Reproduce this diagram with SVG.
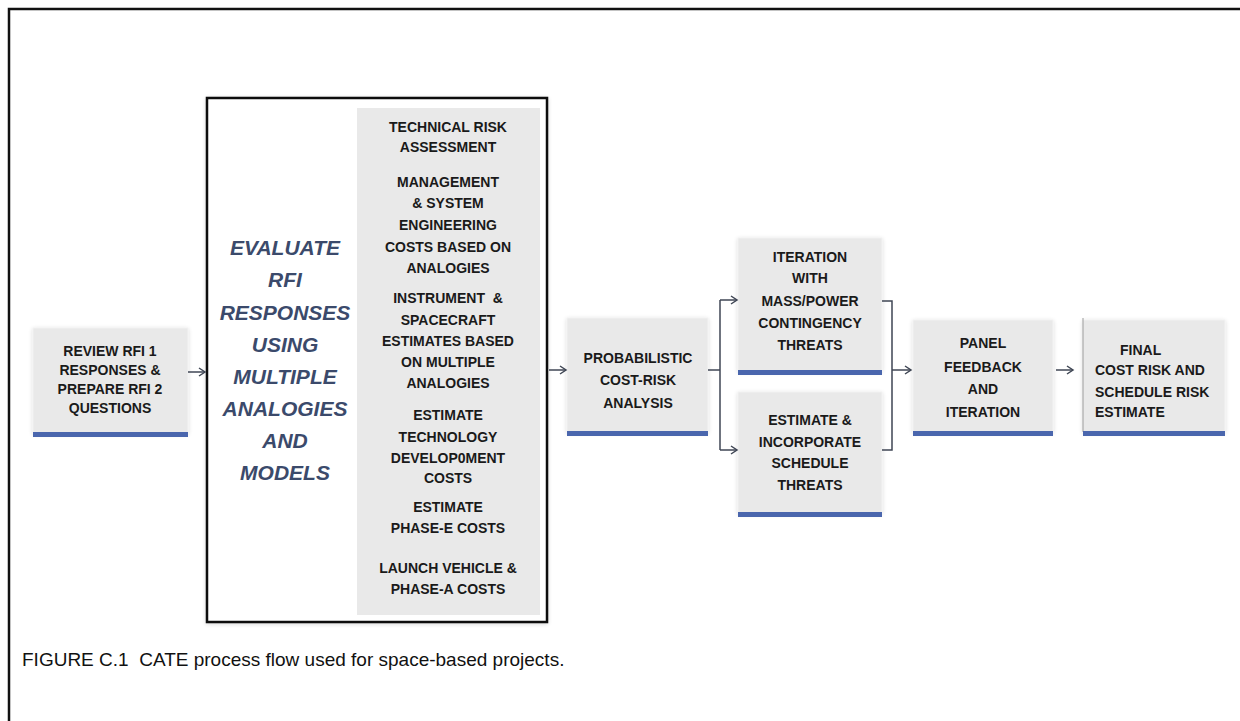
<svg xmlns="http://www.w3.org/2000/svg" width="1240" height="721" viewBox="0 0 1240 721">
<style>
  .box{fill:#e9e9e9;stroke:#f2f2f2;stroke-width:1}
  .bar{fill:#4a66ad}
  .t{font-family:"Liberation Sans",Arial,sans-serif;font-weight:bold;font-size:14px;fill:#1a1a1a;text-anchor:middle}
  .ts{font-family:"Liberation Sans",Arial,sans-serif;font-weight:bold;font-size:14px;fill:#1a1a1a;text-anchor:start}
  .it{font-family:"Liberation Sans",Arial,sans-serif;font-weight:bold;font-style:italic;font-size:21px;fill:#3b4a6b;text-anchor:middle}
  .cap{font-family:"Liberation Sans",Arial,sans-serif;font-size:19px;fill:#111;white-space:pre}
  .con{fill:none;stroke:#3f4654;stroke-width:1.5}
</style>
<defs>
  <marker id="ah" markerWidth="10" markerHeight="10" refX="7" refY="5" orient="auto" markerUnits="userSpaceOnUse">
    <path d="M1,1 L7,5 L1,9" fill="none" stroke="#3f4654" stroke-width="1.5"/>
  </marker>
  <filter id="sh" x="-10%" y="-10%" width="120%" height="120%">
    <feGaussianBlur in="SourceAlpha" stdDeviation="2"/>
    <feOffset dx="0" dy="1"/>
    <feComponentTransfer><feFuncA type="linear" slope="0.15"/></feComponentTransfer>
    <feMerge><feMergeNode/><feMergeNode in="SourceGraphic"/></feMerge>
  </filter>
</defs>
<rect x="0" y="0" width="1240" height="721" fill="#ffffff"/>
<path d="M1240,9 H9 V721" fill="none" stroke="#111" stroke-width="2.5"/>

<g id="review">
  <rect class="box" x="33" y="328" width="155" height="105" filter="url(#sh)"/>
  <rect class="bar" x="33" y="432" width="155" height="5"/>
  <text class="t" x="110" y="356">REVIEW RFI 1</text>
  <text class="t" x="110" y="375">RESPONSES &amp;</text>
  <text class="t" x="110" y="394">PREPARE RFI 2</text>
  <text class="t" x="110" y="413">QUESTIONS</text>
</g>

<g id="evaluate">
  <rect x="207" y="98" width="340" height="524" fill="#ffffff" stroke="#111" stroke-width="2.5" filter="url(#sh)"/>
  <rect x="357" y="108" width="183" height="507" fill="#e9e9e9"/>
  <text class="it" x="285" y="255">EVALUATE</text>
  <text class="it" x="285" y="287">RFI</text>
  <text class="it" x="285" y="320">RESPONSES</text>
  <text class="it" x="285" y="352">USING</text>
  <text class="it" x="285" y="384">MULTIPLE</text>
  <text class="it" x="285" y="416">ANALOGIES</text>
  <text class="it" x="285" y="448">AND</text>
  <text class="it" x="285" y="480">MODELS</text>
  <text class="t" x="448" y="132">TECHNICAL RISK</text>
  <text class="t" x="448" y="152">ASSESSMENT</text>
  <text class="t" x="448" y="187">MANAGEMENT</text>
  <text class="t" x="448" y="208">&amp; SYSTEM</text>
  <text class="t" x="448" y="230">ENGINEERING</text>
  <text class="t" x="448" y="252">COSTS BASED ON</text>
  <text class="t" x="448" y="273">ANALOGIES</text>
  <text class="t" x="448" y="303" style="white-space:pre">INSTRUMENT  &amp;</text>
  <text class="t" x="448" y="325">SPACECRAFT</text>
  <text class="t" x="448" y="346">ESTIMATES BASED</text>
  <text class="t" x="448" y="367">ON MULTIPLE</text>
  <text class="t" x="448" y="388">ANALOGIES</text>
  <text class="t" x="448" y="420">ESTIMATE</text>
  <text class="t" x="448" y="442">TECHNOLOGY</text>
  <text class="t" x="448" y="463">DEVELOP0MENT</text>
  <text class="t" x="448" y="483">COSTS</text>
  <text class="t" x="448" y="512">ESTIMATE</text>
  <text class="t" x="448" y="533">PHASE-E COSTS</text>
  <text class="t" x="448" y="573">LAUNCH VEHICLE &amp;</text>
  <text class="t" x="448" y="594">PHASE-A COSTS</text>
</g>

<g id="probabilistic">
  <rect class="box" x="567" y="318" width="141" height="114" filter="url(#sh)"/>
  <rect class="bar" x="567" y="431" width="141" height="5"/>
  <text class="t" x="638" y="363">PROBABILISTIC</text>
  <text class="t" x="638" y="385">COST-RISK</text>
  <text class="t" x="638" y="408">ANALYSIS</text>
</g>

<g id="iteration">
  <rect class="box" x="738" y="238" width="144" height="133" filter="url(#sh)"/>
  <rect class="bar" x="738" y="370" width="144" height="5"/>
  <text class="t" x="810" y="262">ITERATION</text>
  <text class="t" x="810" y="283">WITH</text>
  <text class="t" x="810" y="306">MASS/POWER</text>
  <text class="t" x="810" y="328">CONTINGENCY</text>
  <text class="t" x="810" y="350">THREATS</text>
</g>

<g id="schedule">
  <rect class="box" x="738" y="392" width="144" height="121" filter="url(#sh)"/>
  <rect class="bar" x="738" y="512" width="144" height="5"/>
  <text class="t" x="810" y="425">ESTIMATE &amp;</text>
  <text class="t" x="810" y="447">INCORPORATE</text>
  <text class="t" x="810" y="468">SCHEDULE</text>
  <text class="t" x="810" y="490">THREATS</text>
</g>

<g id="panel">
  <rect class="box" x="913" y="320" width="140" height="112" filter="url(#sh)"/>
  <rect class="bar" x="913" y="431" width="140" height="5"/>
  <text class="t" x="983" y="348">PANEL</text>
  <text class="t" x="983" y="372">FEEDBACK</text>
  <text class="t" x="983" y="394">AND</text>
  <text class="t" x="983" y="417">ITERATION</text>
</g>

<g id="final">
  <rect class="box" x="1083" y="320" width="142" height="112" filter="url(#sh)"/>
  <line x1="1083" y1="318" x2="1083" y2="432" stroke="#9a9a9a" stroke-width="1"/>
  <rect class="bar" x="1083" y="431" width="142" height="5"/>
  <text class="ts" x="1120" y="355">FINAL</text>
  <text class="ts" x="1095" y="375">COST RISK AND</text>
  <text class="ts" x="1095" y="397">SCHEDULE RISK</text>
  <text class="ts" x="1095" y="417">ESTIMATE</text>
</g>

<g id="connectors">
  <path class="con" d="M188,372 H205" marker-end="url(#ah)"/>
  <path class="con" d="M549,370 H566" marker-end="url(#ah)"/>
  <path class="con" d="M708,370 H720"/>
  <path class="con" d="M720,300 V450"/>
  <path class="con" d="M720,300 H737" marker-end="url(#ah)"/>
  <path class="con" d="M720,450 H737" marker-end="url(#ah)"/>
  <path class="con" d="M882,301 H892 V450 H882"/>
  <path class="con" d="M892,370 H911" marker-end="url(#ah)"/>
  <path class="con" d="M1056,370 H1073" marker-end="url(#ah)"/>
</g>

<text class="cap" x="22" y="666" xml:space="preserve">FIGURE C.1  CATE process flow used for space-based projects.</text>
</svg>
